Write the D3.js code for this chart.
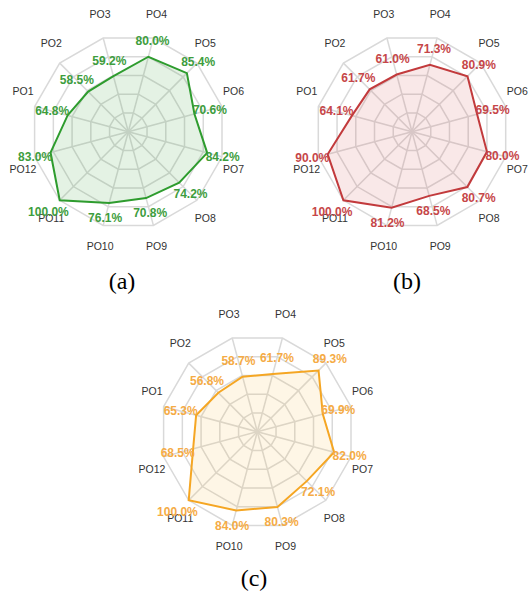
<!DOCTYPE html>
<html>
<head>
<meta charset="utf-8">
<script src="https://cdn.jsdelivr.net/npm/d3@7"></script>
<style>
  html, body { margin: 0; padding: 0; background: #fff; }
  svg { display: block; }
</style>
</head>
<body>
<svg id="chart" width="529" height="593"></svg>
<script>
// ---- data ----
const axes = ["PO1","PO2","PO3","PO4","PO5","PO6","PO7","PO8","PO9","PO10","PO11","PO12"];
const valuesA = [64.8, 58.5, 59.2, 80.0, 85.4, 70.6, 84.2, 74.2, 70.8, 76.1, 100.0, 83.0];
const valuesB = [64.1, 61.7, 61.0, 71.3, 80.9, 69.5, 80.0, 80.7, 68.5, 81.2, 100.0, 90.0];
const valuesC = [65.3, 56.8, 58.7, 61.7, 89.3, 69.9, 82.0, 72.1, 80.3, 84.0, 100.0, 68.5];
const ringLevels = [20, 40, 60, 80, 100];
const captions = ["(a)", "(b)", "(c)"];

// ---- layout / style ----
const R = 97;
const panels = [
  { values: valuesA, cx: 128.3, cy: 131.7, line: "#2e9c2e", fill: "#2e9c2e", text: "#3d9d3d", cap: [122, 289] },
  { values: valuesB, cx: 412, cy: 131.7, line: "#c23a3c", fill: "#d44a4c", text: "#c64648", cap: [407, 289] },
  { values: valuesC, cx: 257.3, cy: 431.7, line: "#f5a623", fill: "#f5b640", text: "#f5ab45", cap: [254, 586] }
];

const svg = d3.select("#chart");
svg.append("rect").attr("width", 529).attr("height", 593).attr("fill", "#fff");

const angle = d3.scaleLinear().domain([0, axes.length]).range([-75 * Math.PI / 180, 285 * Math.PI / 180]);
const r = d3.scaleLinear().domain([0, 100]).range([0, R]);

panels.forEach((p, pi) => {
  const g = svg.append("g").attr("transform", `translate(${p.cx},${p.cy})`);

  // rings
  const ringLine = d3.lineRadial().curve(d3.curveLinearClosed)
    .angle((d, i) => angle(i)).radius(d => r(d));
  g.selectAll("path.ring").data(ringLevels).join("path")
    .attr("class", "ring")
    .attr("d", lv => ringLine(axes.map(() => lv)))
    .attr("fill", "none").attr("stroke", "#d9d9d9").attr("stroke-width", 1.5);

  // spokes
  g.selectAll("line.spoke").data(axes).join("line")
    .attr("class", "spoke")
    .attr("x1", 0).attr("y1", 0)
    .attr("x2", (d, i) => r(100) * Math.sin(angle(i)))
    .attr("y2", (d, i) => -r(100) * Math.cos(angle(i)))
    .attr("stroke", "#d9d9d9").attr("stroke-width", 1.5);

  // data polygon
  const dataLine = d3.lineRadial().curve(d3.curveLinearClosed)
    .angle((d, i) => angle(i)).radius(d => r(d));
  g.append("path")
    .attr("d", dataLine(p.values))
    .attr("fill", p.fill).attr("fill-opacity", 0.13)
    .attr("stroke", p.line).attr("stroke-width", 2).attr("stroke-linejoin", "miter");

  // axis names
  const LR = 109;
  g.selectAll("text.axis").data(axes).join("text")
    .attr("class", "axis")
    .attr("x", (d, i) => LR * Math.sin(angle(i)))
    .attr("y", (d, i) => {
      const c = Math.cos(angle(i));
      return -LR * c + (c > 0 ? -12 : 9);
    })
    .attr("text-anchor", "middle")
    .attr("dominant-baseline", "central")
    .attr("font-family", "Liberation Sans, Arial, sans-serif")
    .attr("font-size", 10.5)
    .attr("fill", "#333")
    .text(d => d);

  // value labels
  g.selectAll("text.val").data(p.values).join("text")
    .attr("class", "val")
    .attr("x", (d, i) => (r(d) + 16) * Math.sin(angle(i)))
    .attr("y", (d, i) => -(r(d) + 16) * Math.cos(angle(i)))
    .attr("text-anchor", "middle")
    .attr("dominant-baseline", "central")
    .attr("font-family", "Liberation Sans, Arial, sans-serif")
    .attr("font-size", 12)
    .attr("font-weight", "bold")
    .attr("fill", p.text)
    .text(d => d.toFixed(1) + "%");

  // caption
  svg.append("text")
    .attr("x", p.cap[0]).attr("y", p.cap[1])
    .attr("text-anchor", "middle")
    .attr("font-family", "Liberation Serif, Times New Roman, serif")
    .attr("font-size", 24)
    .attr("fill", "#000")
    .text(captions[pi]);
});
</script>
</body>
</html>
